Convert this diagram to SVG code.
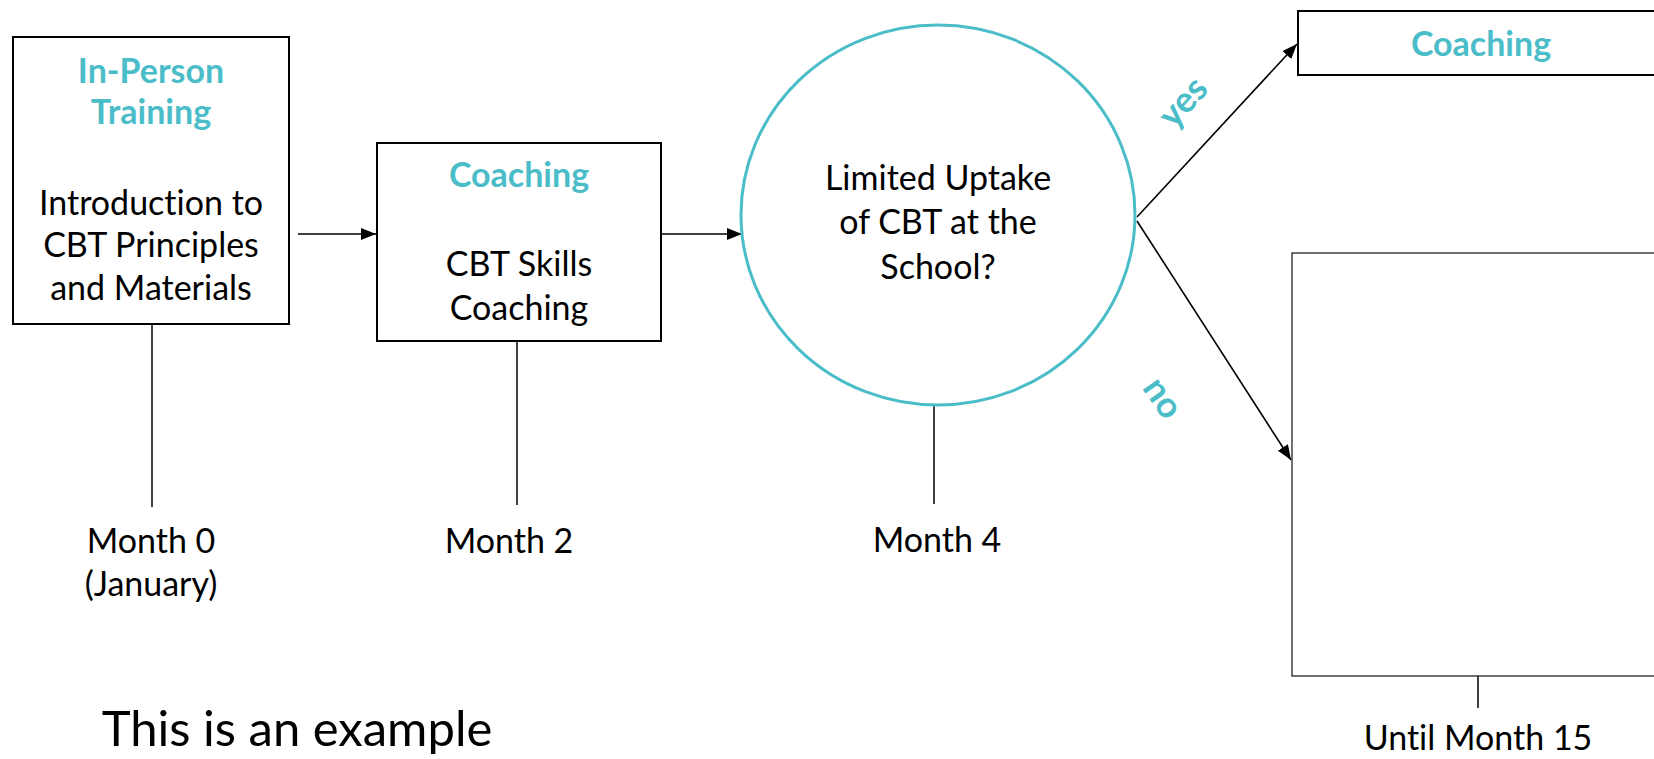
<svg xmlns="http://www.w3.org/2000/svg" width="1654" height="759" viewBox="0 0 1654 759">
<style>
.box{fill:#fff;stroke:#000;stroke-width:2}
.thin{fill:#fff;stroke:#222;stroke-width:1.3}
.t{font-family:Lato,"Open Sans",sans-serif;font-size:34px;fill:#000;text-anchor:middle;font-variant-ligatures:none}
.h{font-weight:bold;fill:#4BBDC9}
.c{stroke:#000;stroke-width:1.6;fill:none}
.tick{stroke:#000;stroke-width:1.5}
</style>
<defs>
<marker id="ah" markerWidth="15" markerHeight="12" refX="15" refY="6" orient="auto" markerUnits="userSpaceOnUse"><path d="M0,0 L15,6 L0,12 z" fill="#000"/></marker>
</defs>
<rect width="1654" height="759" fill="#fff"/>
<g id="connectors">
<line class="c" x1="298" y1="234" x2="376" y2="234" marker-end="url(#ah)"/>
<line class="c" x1="661" y1="234" x2="742" y2="234" marker-end="url(#ah)"/>
<line class="c" x1="1137" y1="217" x2="1297" y2="44" marker-end="url(#ah)"/>
<line class="c" x1="1137" y1="221" x2="1291" y2="460" marker-end="url(#ah)"/>
<line class="tick" x1="152" y1="324" x2="152" y2="507"/>
<line class="tick" x1="517" y1="337" x2="517" y2="505"/>
<line class="tick" x1="934" y1="406" x2="934" y2="504"/>
<line class="tick" x1="1478" y1="676" x2="1478" y2="708"/>
</g>
<g id="n1">
<rect class="box" x="13" y="37" width="276" height="287"/>
<text class="t h" x="151" y="83">In-Person</text>
<text class="t h" x="151" y="124">Training</text>
<text class="t" x="151" y="215">Introduction to</text>
<text class="t" x="151" y="257">CBT Principles</text>
<text class="t" x="151" y="300">and Materials</text>
</g>
<g id="n2">
<rect class="box" x="377" y="143" width="284" height="198"/>
<text class="t h" x="519" y="187">Coaching</text>
<text class="t" x="519" y="276">CBT Skills</text>
<text class="t" x="519" y="320">Coaching</text>
</g>
<g id="n3">
<ellipse cx="938" cy="215" rx="197" ry="190" fill="#fff" stroke="#4BBDC9" stroke-width="3"/>
<text class="t" x="938" y="190">Limited Uptake</text>
<text class="t" x="938" y="234">of CBT at the</text>
<text class="t" x="938" y="279">School?</text>
</g>
<g id="n4">
<rect class="box" x="1298" y="11" width="400" height="64"/>
<text class="t h" x="1481" y="56">Coaching</text>
</g>
<g id="n5">
<rect class="thin" x="1292" y="253" width="400" height="423"/>
</g>
<g id="labels">
<text class="t h" transform="translate(1183,102) rotate(-48)" y="12" style="font-size:36px">yes</text>
<text class="t h" transform="translate(1163,398) rotate(55)" y="12" style="font-size:36px">no</text>
<text class="t" x="151" y="553">Month 0</text>
<text class="t" x="151" y="596">(January)</text>
<text class="t" x="509" y="553">Month 2</text>
<text class="t" x="937" y="552">Month 4</text>
<text class="t" x="1478" y="750">Until Month 15</text>
<text class="t" x="297" y="746" style="font-size:49px">This is an example</text>
</g>
</svg>
